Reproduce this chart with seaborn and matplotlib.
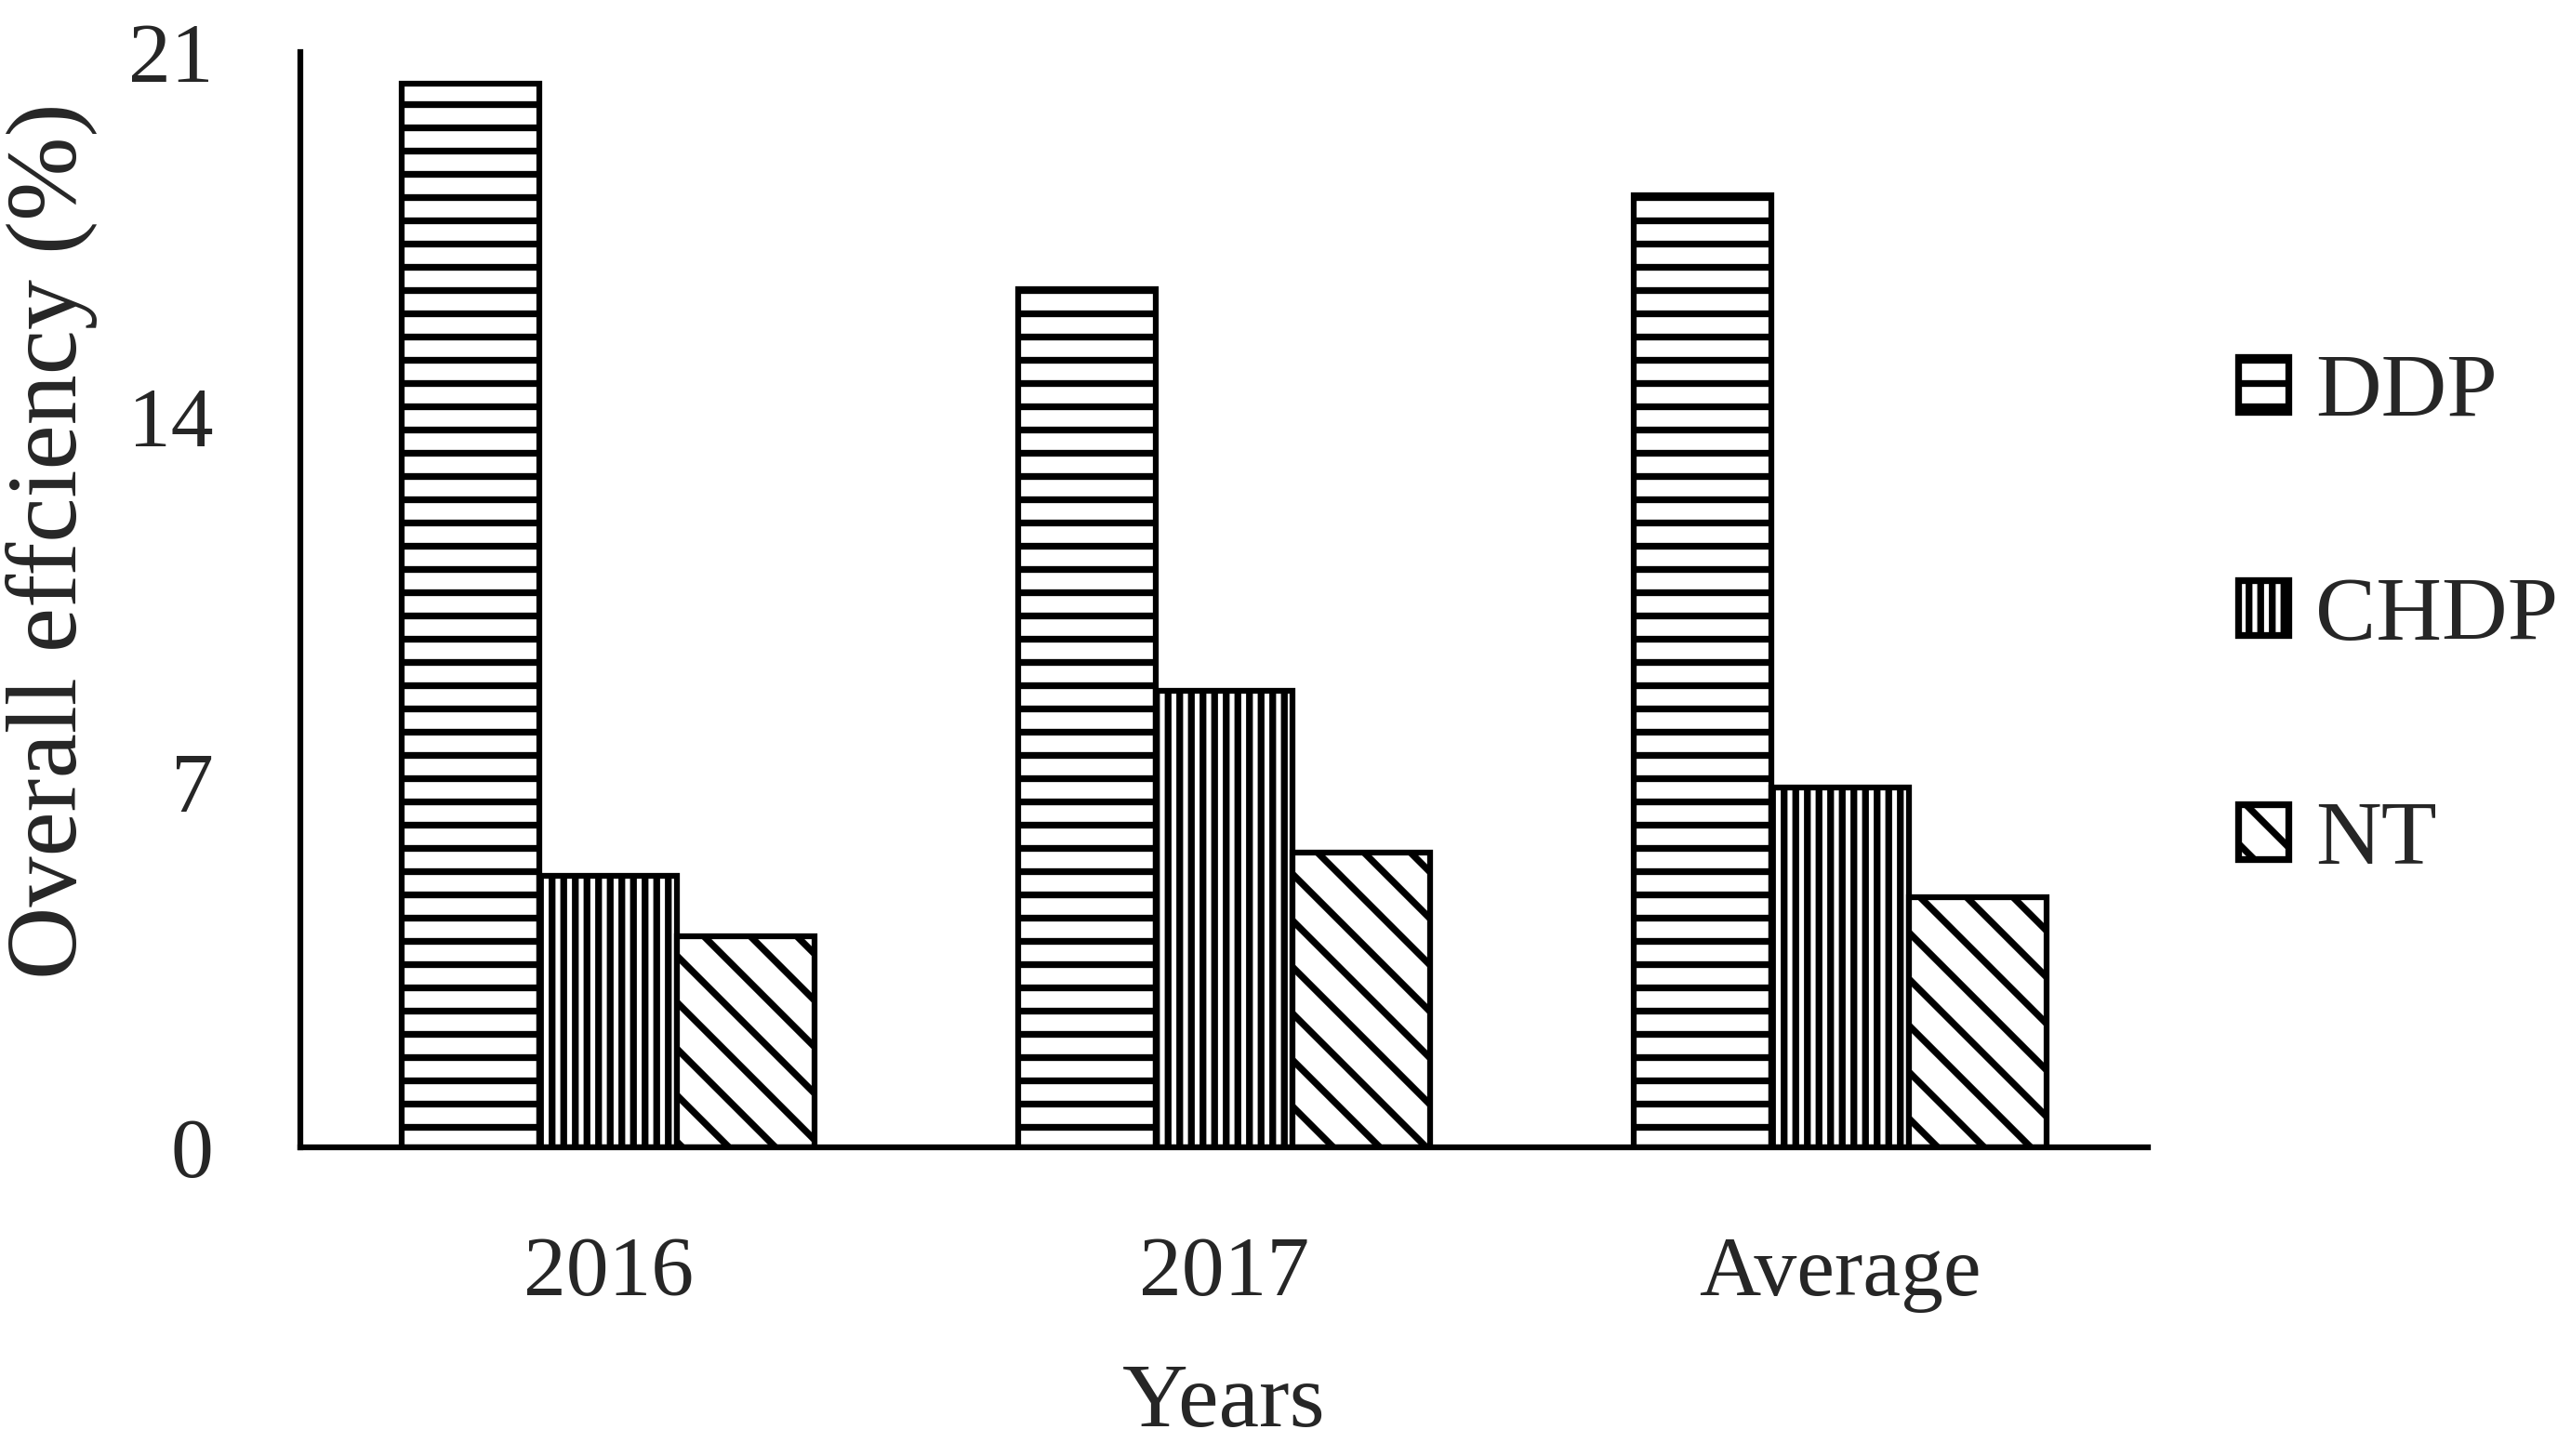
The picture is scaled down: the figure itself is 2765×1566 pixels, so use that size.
import matplotlib
matplotlib.use("Agg")
import matplotlib.pyplot as plt
from matplotlib.patches import Patch
import pandas as pd
import seaborn as sns

# data
years = ["2016", "2017", "Average"]
treatments = ["DDP", "CHDP", "NT"]
ddp = [20.4, 16.45, 18.25]
chdp = [5.2, 8.75, 6.9]
nt = [4.05, 5.65, 4.8]
hatches = ["-", "||", "\\"]

rows = []
for name, vals in zip(treatments, [ddp, chdp, nt]):
    for yr, v in zip(years, vals):
        rows.append({"Years": yr, "Efficiency": v, "Treatment": name})
df = pd.DataFrame(rows)

sns.set_style("white")
plt.rcParams["font.family"] = ["Liberation Serif", "DejaVu Serif"]
plt.rcParams["hatch.linewidth"] = 3.5
plt.rcParams["hatch.color"] = "black"

DPI = 150
fig = plt.figure(figsize=(2765 / DPI, 1566 / DPI), dpi=DPI)
ax = fig.add_axes([323 / 2765, 1 - 1234 / 1566, (2310 - 323) / 2765, (1234 - 56) / 1566])

sns.barplot(
    data=df, x="Years", y="Efficiency", hue="Treatment",
    order=years, hue_order=treatments,
    palette=["white"] * 3, saturation=1, width=0.67,
    edgecolor="black", linewidth=3, errorbar=None, legend=False, ax=ax,
)

# hatch each treatment group
for cont, h in zip(ax.containers, hatches):
    for bar in cont:
        bar.set_hatch(h)
        bar.set_edgecolor("black")
        if hasattr(bar, "set_hatch_linewidth"):
            bar.set_hatch_linewidth(3.5)

ax.set_ylim(0, 21)
ax.set_xlim(-0.5, 2.5)
ax.set_yticks([0, 7, 14, 21])
ax.tick_params(axis="y", length=0, pad=45, labelsize=44)
ax.tick_params(axis="x", length=0, pad=46, labelsize=44)

for side in ["top", "right"]:
    ax.spines[side].set_visible(False)
for side in ["left", "bottom"]:
    ax.spines[side].set_color("black")
    ax.spines[side].set_linewidth(3)

ax.set_ylabel("Overall effciency (%)", fontsize=52, va="center")
ax.yaxis.set_label_coords(-0.1344, 0.5535)
ax.set_xlabel("Years", fontsize=47, va="center")
ax.xaxis.set_label_coords(0.5, -0.235)

handles = [Patch(facecolor="white", edgecolor="black", hatch=h, linewidth=3.5) for h in hatches]
leg = fig.legend(
    handles, treatments, loc="center left", bbox_to_anchor=(2407 / 2765, 1 - 665 / 1566),
    frameon=False, fontsize=47, handlelength=0.55, handleheight=0.55,
    handletextpad=0.3, labelspacing=1.55, borderpad=0, borderaxespad=0,
)

fig.savefig("out.png", dpi=DPI, facecolor="white")
